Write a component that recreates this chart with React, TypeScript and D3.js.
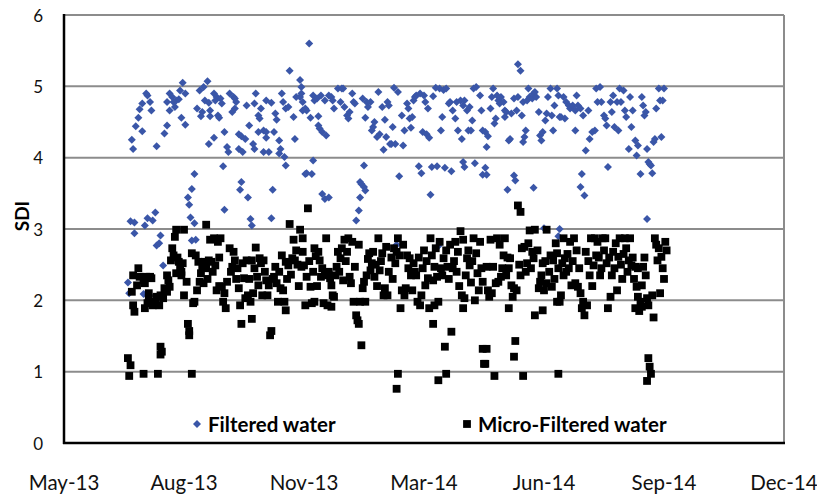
import React from "react";
import * as d3 from "d3";

// Days counted from this date
const startDate = "2013-07-01";
const xTickDates = ["2013-05-29", "2013-08-29", "2013-11-29", "2014-03-01", "2014-06-01", "2014-09-01", "2014-12-02"];
const yTicks = [0, 1, 2, 3, 4, 5, 6];
const seriesNames = ["Filtered water", "Micro-Filtered water"];

// [day, SDI]
const filteredWater: [number, number][] = [
  [16,2.25],[17,2.10],[18,3.11],[19,4.25],[20,4.12],[21,3.09],[21,2.94],[22,4.44],[24,4.56],[25,4.68],[27,4.76],[27,4.37],[28,2.09],[29,3.05],[30,4.90],[31,4.87],[31,3.15],[33,4.78],[34,4.66],[35,3.12],[37,3.23],[38,4.16],[38,2.77],[40,2.80],[41,2.91],[43,2.49],[44,4.34],[46,4.45],[46,4.78],[48,4.90],[48,4.66],[50,4.85],[51,4.78],[52,4.71],[53,4.80],[55,4.82],[56,4.94],[57,4.56],[58,5.05],[60,4.90],[60,4.46],[62,3.44],[63,3.34],[64,3.16],[65,3.56],[65,2.84],[67,3.77],[67,3.08],[68,2.85],
  [69,4.69],[71,4.94],[73,4.64],[72,4.58],[74,4.99],[75,4.80],[77,5.07],[78,4.77],[79,4.66],[78,4.19],[79,4.58],[82,4.90],[82,4.28],[83,4.80],[84,4.85],[85,4.59],[86,4.56],[87,4.83],[88,4.76],[89,3.88],[90,3.27],[90,4.36],[92,4.15],[93,4.08],
  [94,4.90],[96,4.64],[97,4.85],[98,4.69],[98,4.83],[99,4.78],[101,4.33],[101,4.12],[102,3.55],[103,4.30],[103,3.66],[104,4.08],[106,4.26],[107,4.73],[108,3.44],[109,4.45],[110,3.14],[111,3.05],[112,4.19],[113,4.12],[113,4.76],[114,4.90],[116,4.59],[116,4.36],[117,4.55],[118,4.69],[120,4.38],[120,4.08],[122,4.36],[122,4.28],[122,4.80],[124,4.08],[126,4.77],[126,3.15],[127,3.55],[128,4.36],[129,4.62],[130,4.53],[132,4.24],[132,4.06],[133,4.12],[134,4.90],[135,4.78],[136,4.01],[137,4.69],[137,3.89],[139,4.71],[140,5.22],[143,4.57],[144,4.26],[145,4.85],[148,5.09],[148,4.85],[149,4.99],[149,4.90],[150,4.66],[150,4.78],[152,3.77],[152,4.69],[153,4.66],[153,3.78],
  [155,5.60],[156,4.56],[157,3.77],[158,4.87],[158,3.96],[159,4.80],[161,4.83],[162,4.58],[162,4.45],[163,4.41],[164,4.87],[165,4.36],[165,3.49],[167,4.80],[167,3.42],[168,4.31],[170,4.87],[170,3.44],[172,4.85],[173,4.80],[174,4.69],[177,4.97],[179,4.78],[180,4.97],[181,4.97],[182,4.71],[184,4.59],[185,4.55],[186,4.64],[188,4.90],[189,4.78],[190,4.76],[191,3.12],[193,3.26],
  [194,3.44],[194,3.66],[195,3.63],[197,3.59],[198,3.54],[197,3.89],[196,4.83],[199,4.78],[198,4.56],[200,4.71],[202,4.78],[203,4.38],[204,4.43],[205,4.50],[207,4.29],[209,4.33],[208,4.92],[211,4.71],[213,4.53],[215,4.78],[216,4.73],[212,4.11],[214,4.29],[217,4.19],[218,4.19],[221,4.19],[219,4.43],[220,4.98],[223,4.92],[222,2.78],[224,3.74],[226,4.59],[227,4.17],[228,4.38],[230,4.76],[231,4.69],[232,4.55],[233,4.42],[234,4.57],[235,4.80],[236,4.85],[237,4.87],[239,3.88],[240,4.90],[241,3.78],[242,4.36],[243,4.87],[244,4.78],[245,4.33],[246,4.69],[247,4.28],[248,3.48],[249,3.87],[250,4.86],[252,4.98],[253,3.88],[254,2.76],[255,4.97],[256,4.38],[257,4.57],[258,4.95],[259,3.86],[260,4.97],[262,4.76],[263,4.78],[264,3.81],[265,4.66],[267,4.55],[268,4.78],[269,4.38],[271,4.80],[272,4.26],[273,4.73],[273,3.94],[274,4.80],[274,3.87],[276,4.66],[277,4.38],[278,4.71],[279,4.38],[280,4.52],[281,4.97],[282,3.92],[283,4.99],[286,4.87],[287,4.66],[288,4.38],[288,3.76],
  [290,4.36],[290,3.86],[291,4.15],[291,3.76],[292,4.30],[294,4.69],[295,4.85],[296,4.97],[297,4.48],[298,4.55],[299,4.87],[300,4.80],[301,4.76],[302,4.85],[304,4.78],[305,4.66],[305,4.57],[306,4.64],[307,3.55],[308,4.24],[309,4.26],[310,4.62],[312,4.83],[312,3.75],[313,3.68],[314,4.66],[315,4.85],[315,5.31],[317,5.22],[318,4.59],[319,4.22],[319,4.78],[320,4.29],[321,4.38],[322,4.80],[323,4.97],[324,4.85],[326,4.83],[327,4.90],[327,3.58],[328,4.92],[329,4.85],[331,4.64],[332,4.31],[333,4.24],[334,4.36],[335,3.01],[336,4.52],[337,4.62],[338,4.85],[340,4.97],[341,4.59],[342,4.38],[343,4.73],[345,4.97],[346,4.87],[346,2.90],[347,4.57],[347,3.00],[348,4.57],[350,4.85],[351,4.55],[352,4.78],[354,4.73],[355,4.69],[356,4.71],[357,4.73],[359,4.66],[359,4.38],[360,4.87],[361,4.73],[363,4.69],[363,3.59],[364,3.77],[365,4.59],[366,3.47],[367,4.10],[369,4.66],[370,4.26],[372,4.36],[374,4.38],[375,4.97],[376,4.78],[378,4.99],[379,4.78],[381,4.59],[382,4.55],[383,4.45],[384,3.87],[386,4.78],[387,4.64],[388,4.87],[389,4.43],[391,4.78],[392,4.38],[393,4.97],[394,4.78],[396,4.94],[397,4.66],[398,4.57],[400,4.12],[401,4.85],[402,4.43],[403,4.66],[405,4.24],[406,4.03],[407,4.17],[409,3.77],[410,4.85],[411,4.73],[412,4.59],[413,4.64],[414,4.12],[414,3.14],[415,3.94],[416,3.91],[417,3.89],[418,3.78],[419,4.22],[420,4.26],[421,4.69],[423,4.97],[424,4.80],[425,4.29],[426,4.80],[427,4.97]
];

const microFilteredWater: [number, number][] = [
  [16,1.19],[17,0.94],[18,1.09],[19,2.12],[20,1.93],[20,2.35],[21,1.84],[23,2.21],[24,2.45],[25,2.33],[28,0.97],[28,2.28],[29,2.24],[29,1.89],[30,2.33],[31,1.96],[32,2.10],[32,2.03],[33,2.33],[34,2.31],[35,1.93],[37,1.98],[38,2.05],[39,0.97],[40,1.93],[41,1.35],[41,1.24],[41,2.07],[42,1.28],[43,2.03],[44,2.17],[46,2.12],[46,2.35],[47,2.28],[48,2.19],[49,2.56],[50,2.73],[51,2.63],[52,2.89],[53,2.99],[53,2.38],[54,2.60],[55,2.54],[56,2.47],[57,2.40],[57,2.35],[58,2.52],[59,2.99],[59,2.07],[61,2.26],[62,1.67],[63,1.57],[63,1.51],[65,0.97],[65,2.66],[66,1.96],[67,1.98],[68,2.63],[69,2.14],[70,2.54],[71,2.26],[72,2.38],[73,2.47],[74,2.24],[75,2.54],[76,2.45],[76,3.06],[77,2.30],[78,2.56],[79,2.85],[80,2.54],[81,2.40],[82,2.87],[83,2.49],[84,2.14],[85,2.82],[86,2.60],[86,2.20],[87,2.87],[88,2.19],[89,1.98],[90,2.10],[91,1.89],[92,2.26],[94,2.73],[95,2.40],[96,2.47],[97,2.68],[98,2.56],[99,2.30],[100,2.45],[101,2.17],[102,1.93],[103,1.67],[104,2.52],[105,2.31],[106,2.03],[107,2.56],[108,2.07],[109,2.30],[110,1.98],[111,2.56],[111,1.74],[112,2.10],[113,2.45],[114,2.74],[115,2.33],[116,2.21],[117,2.59],[118,2.52],[119,2.07],[120,2.56],[121,2.40],[122,2.28],[123,2.07],[124,2.21],[125,1.51],[126,1.57],[127,2.30],[128,2.33],[129,2.47],[130,2.24],[131,1.98],[132,2.40],[133,2.17],[134,2.63],[135,2.14],[136,1.98],[137,2.54],[137,1.86],[138,2.30],[139,2.49],[140,3.07],[141,2.36],[142,2.59],[143,2.85],[144,2.56],[145,2.70],[146,2.50],[147,2.20],[148,2.99],[149,2.47],
  [150,2.87],[150,2.68],[151,2.49],[152,1.93],[153,2.33],[154,3.29],[155,2.55],[156,2.19],[157,1.96],[158,2.40],[159,1.98],[159,2.73],[160,2.62],[161,2.20],[162,2.68],[163,2.56],[164,2.33],[165,2.45],[166,1.96],[167,2.35],[168,2.87],[169,1.93],[170,2.40],[171,2.31],[172,2.21],[172,1.91],[173,2.07],[174,2.05],[175,2.35],[176,2.47],[177,2.68],[178,2.40],[179,2.59],[180,2.73],[181,2.28],[182,2.85],[183,2.55],[184,2.68],[185,2.87],[186,2.33],[187,2.24],[188,2.82],[189,1.98],[190,2.47],[191,1.79],[192,1.72],[193,1.67],[193,2.78],[194,1.98],[195,1.37],[196,2.17],[197,2.26],[198,1.98],[199,2.35],[200,2.58],[201,2.66],[202,2.42],[203,2.52],[204,2.68],[205,2.33],[206,2.50],[207,2.20],[208,2.87],[209,2.42],[210,2.55],[211,2.66],[212,2.07],[213,2.17],[214,2.75],[215,2.07],[216,2.40],[218,2.60],[219,2.30],[220,2.73],[221,2.52],[222,2.68],[222,0.76],[223,2.87],[223,0.97],[224,2.63],[225,1.89],[226,2.14],[227,2.78],[228,2.07],[229,2.17],[230,2.63],[231,2.45],[232,2.59],[233,2.35],[234,2.14],[235,2.52],[236,2.40],[237,2.35],[238,1.98],[239,2.60],[240,1.93],[241,2.07],[242,2.45],[243,2.70],[244,2.21],[245,2.55],[246,2.31],[247,1.89],[248,2.87],[249,2.63],[250,2.28],[250,1.67],[251,2.47],[251,1.93],[252,2.73],[253,2.33],[254,1.98],[254,0.88],[255,2.82],[256,2.45],[257,2.35],[258,2.59],[259,1.35],[260,2.70],[260,0.97],[261,2.47],[262,2.30],[263,2.78],[264,1.56],[265,2.45],[266,2.55],[267,2.82],[268,2.40],[269,2.68],[270,2.20],[271,2.97],[272,2.07],[273,2.85],[273,1.89],[274,2.03],[275,2.35],[276,2.59],[277,2.70],[278,2.49],[279,2.25],[280,2.55],[281,2.87],[282,2.00],[283,2.66],[284,2.38],[285,2.14],[286,2.82],[287,2.45],[288,2.26],[288,1.32],[289,1.11],
  [290,1.11],[291,1.32],[291,2.47],[292,2.14],[293,2.05],[294,2.85],[295,2.10],[296,2.47],[297,0.94],[298,2.24],[299,2.87],[300,2.26],[301,2.78],[302,2.33],[303,2.45],[304,2.63],[305,2.87],[306,2.35],[307,2.60],[308,2.45],[308,1.89],[309,2.59],[310,2.21],[311,2.05],[312,2.17],[312,1.21],[313,1.43],[314,2.14],[315,3.33],[316,2.50],[317,3.24],[317,2.35],[318,2.73],[319,0.94],[320,2.75],[321,2.40],[322,2.52],[323,2.80],[324,2.98],[325,2.45],[326,2.68],[327,2.59],[328,2.99],[328,1.79],[330,2.70],[331,2.17],[332,2.26],[333,2.35],[334,2.52],[334,1.86],[335,2.14],[336,2.55],[337,2.24],[337,2.99],[339,2.40],[340,2.63],[341,2.19],[342,2.56],[343,2.30],[344,2.80],[345,2.66],[345,1.98],[346,2.45],[346,0.97],[347,1.98],[348,2.07],[349,2.52],[350,2.35],[350,2.87],[351,2.59],[352,2.40],[353,2.65],[354,2.45],[355,2.82],[356,2.21],[357,2.55],[358,2.87],[359,2.24],[360,2.70],[361,2.19],[362,2.45],[363,2.10],[364,1.89],[365,1.98],[366,1.79],[367,2.68],[368,1.93],[369,2.55],[370,2.35],[371,2.87],[372,2.20],[373,2.49],[374,2.87],[375,2.63],[376,2.82],[377,2.60],[378,2.35],[379,2.45],[380,2.87],[381,2.70],[382,2.87],[383,2.52],[384,1.89],[385,2.60],[386,2.05],[387,2.35],[388,2.68],[389,2.45],[390,2.80],[391,2.14],[392,2.61],[393,2.87],[394,2.50],[395,2.30],[396,2.65],[397,2.87],[398,2.73],[399,2.40],[400,2.56],[401,2.87],[402,2.49],[403,2.60],[404,2.30],[405,2.47],[405,1.89],[406,2.19],[407,2.05],[407,2.45],[408,1.85],[409,1.98],[410,2.21],[410,1.91],[411,2.47],[412,2.60],[413,2.35],[414,2.03],[414,0.87],[415,1.93],[415,1.19],[416,1.07],[417,0.97],[418,2.07],[419,1.76],[420,2.87],[421,2.78],[422,2.56],[423,2.73],[424,2.10],[425,2.61],[426,2.45],[427,2.30],[428,2.82],[429,2.70]
];

const BLUE = "#3a56a8";
const GRID = "#8c8c8c";
const FONT = "Lato, 'Open Sans', sans-serif";

export default function App() {
  const W = 817, H = 496;
  const L = 64, R = 784, T = 15, B = 443;
  const parse = d3.utcParse("%Y-%m-%d");
  const base = parse(startDate)!;
  const tickDates = xTickDates.map((s) => parse(s)!);
  const x = d3.scaleUtc().domain([tickDates[0], tickDates[tickDates.length - 1]]).range([L, R]);
  const y = d3.scaleLinear().domain([0, 6]).range([B, T]);
  const fmt = d3.utcFormat("%b-%y");
  const px = (d: number) => x(d3.utcDay.offset(base, d));
  const r = 4;
  const diamond = (cx: number, cy: number) => `M${cx},${cy - r}L${cx + r},${cy}L${cx},${cy + r}L${cx - r},${cy}Z`;
  const sq = 7.8;

  return (
    <svg width={W} height={H} style={{ position: "absolute", left: 0, top: 0, background: "#fff" }} fontFamily={FONT}>
      {yTicks.filter((t) => t > 0).map((t) => (
        <line key={t} x1={L} x2={R} y1={y(t)} y2={y(t)} stroke={GRID} strokeWidth={2} />
      ))}
      <line x1={R} x2={R} y1={T} y2={B} stroke={GRID} strokeWidth={2} />
      {yTicks.map((t) => (
        <text key={t} x={43} y={y(t)} textAnchor="end" dominantBaseline="central" fontSize={17} fill="#111">{t}</text>
      ))}
      {tickDates.map((d, i) => (
        <text key={i} x={x(d)} y={482} textAnchor="middle" dominantBaseline="central" fontSize={20.5} fill="#111">{fmt(d)}</text>
      ))}
      <text transform={`translate(21,216) rotate(-90)`} textAnchor="middle" dominantBaseline="central" fontSize={19} fontWeight="bold" fill="#000">SDI</text>
      <g fill={BLUE}>
        {filteredWater.map(([d, v], i) => (
          <path key={i} d={diamond(px(d), y(v))} />
        ))}
      </g>
      <g fill="#000">
        {microFilteredWater.map(([d, v], i) => (
          <rect key={i} x={px(d) - sq / 2} y={y(v) - sq / 2} width={sq} height={sq} />
        ))}
      </g>
      <line x1={L} x2={L} y1={T - 1} y2={B + 1} stroke="#000" strokeWidth={2.5} />
      <line x1={L - 1} x2={R + 1} y1={B} y2={B} stroke="#000" strokeWidth={2.5} />
      <path d={diamond(197, 424)} fill={BLUE} />
      <text x={208} y={424} dominantBaseline="central" fontSize={20.5} fontWeight="bold" fill="#000">{seriesNames[0]}</text>
      <rect x={467 - sq / 2} y={424 - sq / 2} width={sq} height={sq} fill="#000" />
      <text x={478} y={424} dominantBaseline="central" fontSize={20.5} fontWeight="bold" fill="#000">{seriesNames[1]}</text>
    </svg>
  );
}
